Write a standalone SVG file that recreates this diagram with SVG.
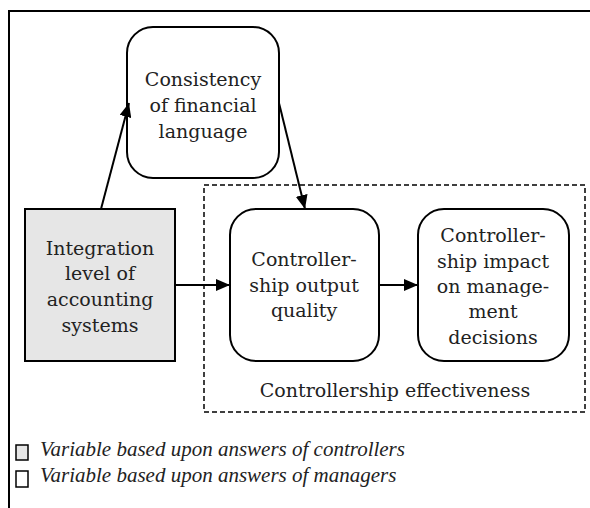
<svg xmlns="http://www.w3.org/2000/svg" width="590" height="508" viewBox="0 0 590 508">
<defs>
<marker id="ah" viewBox="0 0 14 12" refX="14" refY="6" markerWidth="14" markerHeight="12" markerUnits="userSpaceOnUse" orient="auto">
<path d="M0,0 L14,6 L0,12 Z" fill="#000"/>
</marker>
</defs>
<style>
.t{font-family:"DejaVu Serif","Liberation Serif",serif;font-size:19px;fill:#222;text-anchor:middle}
.l{font-family:"Liberation Serif","DejaVu Serif",serif;font-size:21px;font-style:italic;fill:#222}
.box{fill:#fff;stroke:#000;stroke-width:2}
.edge{stroke:#000;stroke-width:2;fill:none;marker-end:url(#ah)}
</style>
<rect width="590" height="508" fill="#fff"/>
<path d="M9,508 L9,11 L590,11" fill="none" stroke="#000" stroke-width="2"/>
<g id="group-effectiveness">
<rect x="204" y="185" width="381" height="227" fill="none" stroke="#000" stroke-width="1.5" stroke-dasharray="5,3"/>
<text class="t" x="395" y="397">Controllership effectiveness</text>
</g>
<g id="node-consistency">
<rect class="box" x="127" y="27" width="152" height="151" rx="26"/>
<text class="t" x="203" y="86">Consistency</text>
<text class="t" x="203" y="112">of financial</text>
<text class="t" x="203" y="138">language</text>
</g>
<g id="node-integration">
<rect x="25" y="209" width="150" height="152" fill="#e6e6e6" stroke="#000" stroke-width="2"/>
<text class="t" x="100" y="255">Integration</text>
<text class="t" x="100" y="280">level of</text>
<text class="t" x="100" y="306">accounting</text>
<text class="t" x="100" y="332">systems</text>
</g>
<g id="node-output">
<rect class="box" x="230" y="209" width="149" height="152" rx="26"/>
<text class="t" x="304" y="266">Controller-</text>
<text class="t" x="304" y="292">ship output</text>
<text class="t" x="304" y="317">quality</text>
</g>
<g id="node-impact">
<rect class="box" x="418" y="209" width="151" height="152" rx="26"/>
<text class="t" x="493" y="242">Controller-</text>
<text class="t" x="493" y="268">ship impact</text>
<text class="t" x="493" y="293">on manage-</text>
<text class="t" x="493" y="318">ment</text>
<text class="t" x="493" y="344">decisions</text>
</g>
<g id="connectors">
<line class="edge" x1="101" y1="209" x2="129" y2="103"/>
<line class="edge" x1="279" y1="103" x2="305" y2="209"/>
<line class="edge" x1="175" y1="285" x2="230" y2="285"/>
<line class="edge" x1="379" y1="285" x2="418" y2="285"/>
</g>
<g id="legend">
<rect x="16" y="445" width="12" height="15" fill="#e6e6e6" stroke="#000" stroke-width="1.5"/>
<text class="l" x="40" y="456">Variable based upon answers of controllers</text>
<rect x="16" y="471" width="12" height="16" fill="#fff" stroke="#000" stroke-width="1.5"/>
<text class="l" x="40" y="482">Variable based upon answers of managers</text>
</g>
</svg>
